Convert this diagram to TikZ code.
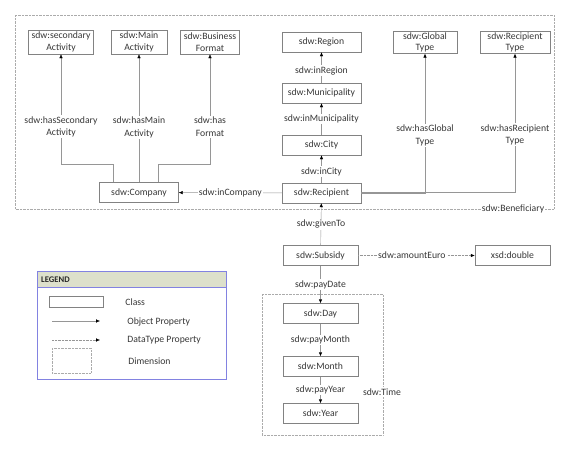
\documentclass[tikz,border=0pt]{standalone}
\usepackage{fontspec}
\setmainfont{Carlito}
\usetikzlibrary{arrows.meta}
\definecolor{linegray}{RGB}{150,150,150}
\definecolor{boxgray}{RGB}{130,130,130}
\definecolor{txtgray}{RGB}{55,55,55}
\definecolor{legendhead}{RGB}{221,224,203}
\definecolor{legendline}{RGB}{130,130,225}

\tikzset{
  cls/.style={draw=boxgray, fill=white, text=txtgray, minimum height=20pt, inner sep=1pt,
    align=center, font=\fontsize{9.7}{11.5}\selectfont},
  lbl/.style={fill=white, text=txtgray, align=center, inner sep=1.2pt,
    font=\fontsize{9.7}{12.5}\selectfont},
  objprop/.style={draw=linegray, -{Latex[black,length=4pt,width=3.4pt]}},
  dataprop/.style={draw=linegray, densely dotted, -{Latex[black,length=4pt,width=3.4pt]}},
  dimbox/.style={draw=linegray!80, densely dotted},
}

\begin{document}
\begin{tikzpicture}[x=1pt,y=-1pt]
  \useasboundingbox (0,0) rectangle (578,458);
  % Dimensions
  \draw[dimbox] (15,15) rectangle (554,209);
  \draw[dimbox] (262,294) rectangle (383,435);
  % Classes
  \node[cls, minimum width=65pt, minimum height=24pt] (secact) at (61,42) {sdw:secondary\\Activity};
  \node[cls, minimum width=56pt, minimum height=24pt] (mainact) at (139,42) {sdw:Main\\Activity};
  \node[cls, minimum width=59pt, minimum height=24pt] (bizfmt) at (210,42) {sdw:Business\\Format};
  \node[cls, minimum width=79pt] (cmp) at (139,192.5) {sdw:Company};
  \node[cls, minimum width=79pt] (region) at (321.5,42) {sdw:Region};
  \node[cls, minimum width=79pt] (muni) at (321.5,93) {sdw:Municipality};
  \node[cls, minimum width=79pt] (city) at (321.5,145) {sdw:City};
  \node[cls, minimum width=79pt] (rcp) at (321.5,193) {sdw:Recipient};
  \node[cls, minimum width=64pt, minimum height=21pt] (globtype) at (425,42.5) {sdw:Global\\Type};
  \node[cls, minimum width=70pt, minimum height=21pt] (rcptype) at (515,42.5) {sdw:Recipient\\Type};
  \node[cls, minimum width=75pt] (subsidy) at (320.5,255.5) {sdw:Subsidy};
  \node[cls, minimum width=75pt] (xsddbl) at (512.5,255.5) {xsd:double};
  \node[cls, minimum width=75pt] (day) at (320.5,313.5) {sdw:Day};
  \node[cls, minimum width=75pt] (month) at (320.5,366.5) {sdw:Month};
  \node[cls, minimum width=75pt] (year) at (320.5,413.5) {sdw:Year};
  % Bends
  \coordinate (cmpbend) at (0,164);
  % Object properties
  \draw[objprop] ([xshift=-26pt]cmp.north) |- (secact.south |- cmpbend)
    -- node[lbl, pos=0.34] {sdw:hasSecondary\\Activity} (secact.south);
  \draw[objprop] (cmp.north) -- node[lbl, pos=0.43] {sdw:hasMain\\Activity} (mainact.south);
  \draw[objprop] ([xshift=19pt]cmp.north) |- (bizfmt.south |- cmpbend)
    -- node[lbl, pos=0.34] {sdw:has\\Format} (bizfmt.south);
  \draw[objprop] (rcp) -- node[lbl] {sdw:inCompany} (cmp);
  \draw[objprop] (muni) -- node[lbl, pos=0.4] {sdw:inRegion} (region);
  \draw[objprop] (city) -- node[lbl] {sdw:inMunicipality} (muni);
  \draw[objprop] (rcp) -- node[lbl, pos=0.4] {sdw:inCity} (city);
  \draw[objprop] (rcp.east) -| node[lbl, pos=0.707] {sdw:hasGlobal\\Type} (globtype.south);
  \draw[objprop] ([yshift=1pt]rcp.east) -| node[lbl, pos=0.707] {sdw:hasRecipient\\Type} (rcptype.south);
  \draw[objprop] (subsidy) -- node[lbl] {sdw:givenTo} (rcp);
  \draw[objprop] (subsidy) -- node[lbl] {sdw:payDate} (day);
  \draw[objprop] (day) -- node[lbl] {sdw:payMonth} (month);
  \draw[objprop] (month) -- node[lbl] {sdw:payYear} (year);
  % Datatype property
  \draw[dataprop] (subsidy) -- node[lbl, pos=0.46] {sdw:amountEuro} (xsddbl);
  % Dimension labels
  \node[lbl] (benef) at (513,209) {sdw:Beneficiary};
  \node[lbl] (timedim) at (382,392) {sdw:Time};
  % Legend
  \draw[legendline, fill=white] (37,271) rectangle (226,379);
  \draw[legendline, fill=legendhead] (37,271) rectangle (226,287);
  \node[anchor=west, inner sep=0pt, text=black!85, font=\fontsize{8.6}{10}\bfseries] (legtitle) at (41,279.5) {LEGEND};
  \node[draw=boxgray, minimum width=54pt, minimum height=11pt, inner sep=0pt] (legcls) at (76,301.5) {};
  \coordinate (objfrom) at (52,321);
  \coordinate (objto) at (100,321);
  \coordinate (datfrom) at (52,340);
  \coordinate (datto) at (100,340);
  \draw[objprop] (objfrom) -- (objto);
  \draw[dataprop] (datfrom) -- (datto);
  \draw[dimbox] (52,348) rectangle (91,373);
  \node[lbl, anchor=west] (legclstxt) at (124,302.5) {Class};
  \node[lbl, anchor=west] (legobjtxt) at (126,321.5) {Object Property};
  \node[lbl, anchor=west] (legdattxt) at (126,340.5) {DataType Property};
  \node[lbl, anchor=west] (legdimtxt) at (127,361.5) {Dimension};
\end{tikzpicture}
\end{document}
